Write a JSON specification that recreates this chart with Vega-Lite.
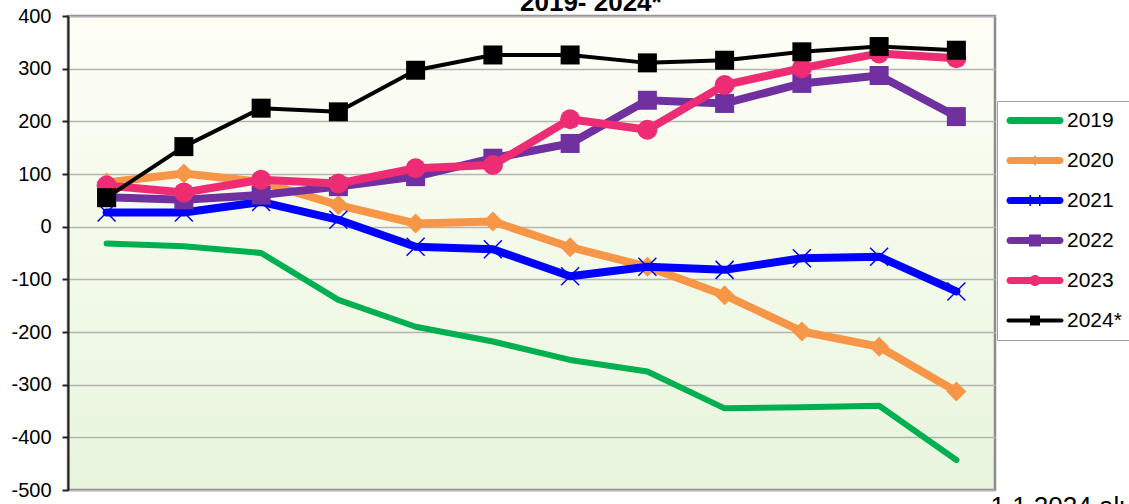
{
  "$schema": "https://vega.github.io/schema/vega-lite/v6.json",
  "width": 927,
  "height": 474,
  "autosize": {"type": "none"},
  "padding": {"left": 68, "top": 16, "right": 134, "bottom": 14},
  "background": "white",
  "title": {"text": "2019- 2024*", "anchor": "start", "frame": "group", "dx": 452, "dy": 25, "offset": -6, "baseline": "alphabetic", "fontSize": 26, "fontWeight": "bold", "font": "Liberation Sans", "color": "black"},
  "data": {"values": [
    {"m": 1, "year": "2019", "v": -32}, {"m": 2, "year": "2019", "v": -37}, {"m": 3, "year": "2019", "v": -50}, {"m": 4, "year": "2019", "v": -139}, {"m": 5, "year": "2019", "v": -190}, {"m": 6, "year": "2019", "v": -218}, {"m": 7, "year": "2019", "v": -253}, {"m": 8, "year": "2019", "v": -275}, {"m": 9, "year": "2019", "v": -345}, {"m": 10, "year": "2019", "v": -343}, {"m": 11, "year": "2019", "v": -340}, {"m": 12, "year": "2019", "v": -443},
    {"m": 1, "year": "2020", "v": 84}, {"m": 2, "year": "2020", "v": 101}, {"m": 3, "year": "2020", "v": 85}, {"m": 4, "year": "2020", "v": 41}, {"m": 5, "year": "2020", "v": 6}, {"m": 6, "year": "2020", "v": 10}, {"m": 7, "year": "2020", "v": -39}, {"m": 8, "year": "2020", "v": -76}, {"m": 9, "year": "2020", "v": -130}, {"m": 10, "year": "2020", "v": -199}, {"m": 11, "year": "2020", "v": -228}, {"m": 12, "year": "2020", "v": -313},
    {"m": 1, "year": "2021", "v": 27}, {"m": 2, "year": "2021", "v": 27}, {"m": 3, "year": "2021", "v": 47}, {"m": 4, "year": "2021", "v": 13}, {"m": 5, "year": "2021", "v": -38}, {"m": 6, "year": "2021", "v": -43}, {"m": 7, "year": "2021", "v": -94}, {"m": 8, "year": "2021", "v": -76}, {"m": 9, "year": "2021", "v": -82}, {"m": 10, "year": "2021", "v": -60}, {"m": 11, "year": "2021", "v": -57}, {"m": 12, "year": "2021", "v": -123},
    {"m": 1, "year": "2022", "v": 56}, {"m": 2, "year": "2022", "v": 51}, {"m": 3, "year": "2022", "v": 60}, {"m": 4, "year": "2022", "v": 76}, {"m": 5, "year": "2022", "v": 95}, {"m": 6, "year": "2022", "v": 130}, {"m": 7, "year": "2022", "v": 158}, {"m": 8, "year": "2022", "v": 240}, {"m": 9, "year": "2022", "v": 234}, {"m": 10, "year": "2022", "v": 272}, {"m": 11, "year": "2022", "v": 287}, {"m": 12, "year": "2022", "v": 209},
    {"m": 1, "year": "2023", "v": 78}, {"m": 2, "year": "2023", "v": 65}, {"m": 3, "year": "2023", "v": 89}, {"m": 4, "year": "2023", "v": 82}, {"m": 5, "year": "2023", "v": 111}, {"m": 6, "year": "2023", "v": 117}, {"m": 7, "year": "2023", "v": 204}, {"m": 8, "year": "2023", "v": 184}, {"m": 9, "year": "2023", "v": 269}, {"m": 10, "year": "2023", "v": 301}, {"m": 11, "year": "2023", "v": 329}, {"m": 12, "year": "2023", "v": 320},
    {"m": 1, "year": "2024*", "v": 55}, {"m": 2, "year": "2024*", "v": 152}, {"m": 3, "year": "2024*", "v": 225}, {"m": 4, "year": "2024*", "v": 218}, {"m": 5, "year": "2024*", "v": 297}, {"m": 6, "year": "2024*", "v": 326}, {"m": 7, "year": "2024*", "v": 326}, {"m": 8, "year": "2024*", "v": 311}, {"m": 9, "year": "2024*", "v": 316}, {"m": 10, "year": "2024*", "v": 332}, {"m": 11, "year": "2024*", "v": 342}, {"m": 12, "year": "2024*", "v": 335}
  ]},
  "encoding": {
    "x": {"field": "m", "type": "ordinal", "scale": {"type": "point", "padding": 0.5},
      "axis": {"labels": false, "ticks": false, "domain": false, "grid": false, "title": "1.1.2024 aluejaolla", "titleX": 922, "titleY": 24, "titleAlign": "left", "titleAnchor": "start", "titleBaseline": "alphabetic", "titleFontSize": 26, "titleFontWeight": "normal", "titleFont": "Liberation Sans", "titleColor": "black"}},
    "y": {"field": "v", "type": "quantitative", "scale": {"domain": [-500, 400], "nice": false, "zero": false},
      "axis": {"values": [-500, -400, -300, -200, -100, 0, 100, 200, 300, 400], "labelExpr": "toString(datum.value)", "title": null, "grid": true, "gridColor": "#b4b4b4", "gridWidth": 1.5, "domainColor": "#222222", "domainWidth": 2, "tickColor": "#222222", "tickWidth": 2, "tickSize": 6, "labelFontSize": 20, "labelFont": "Liberation Sans", "labelColor": "black", "labelPadding": 11}}
  },
  "layer": [
    {"transform": [{"filter": "datum.year === '2019'"}], "mark": {"type": "line", "strokeWidth": 6, "strokeCap": "round", "strokeJoin": "round"},
      "encoding": {"color": {"field": "year", "type": "nominal",
        "scale": {"domain": ["2019", "2020", "2021", "2022", "2023", "2024*"], "range": ["#00b050", "#f79646", "#0000ff", "#7030a0", "#ee2c74", "#000000"]},
        "legend": {"orient": "none", "legendX": 929, "legendY": 85, "padding": 9, "strokeColor": "#a0a0a0", "fillColor": "white", "title": null, "rowPadding": 18, "labelFontSize": 21, "labelFont": "Liberation Sans", "labelColor": "black", "symbolSize": 400, "labelOffset": 40,
          "labelExpr": "datum.label + '\u00a0\u00a0\u00a0\u00a0\u00a0'",
          "encode": {"symbols": {"update": {
            "shape": {"signal": "datum.value === '2019' ? 'M-0.65,-0.35H4.35A0.35,0.35 0 0,1 4.35,0.35H-0.65A0.35,0.35 0 0,1 -0.65,-0.35Z' : datum.value === '2020' ? 'M-0.65,-0.35H4.35A0.35,0.35 0 0,1 4.35,0.35H-0.65A0.35,0.35 0 0,1 -0.65,-0.35Z M1.85,-0.55L2.2,0L1.85,0.55L1.5,0Z' : datum.value === '2021' ? 'M-0.65,-0.35H4.35A0.35,0.35 0 0,1 4.35,0.35H-0.65A0.35,0.35 0 0,1 -0.65,-0.35Z M1.3,-0.55H1.45V0.55H1.3Z M2.25,-0.55H2.4V0.55H2.25Z' : datum.value === '2022' ? 'M-0.65,-0.35H4.35A0.35,0.35 0 0,1 4.35,0.35H-0.65A0.35,0.35 0 0,1 -0.65,-0.35Z M1.25,-0.6H2.45V0.6H1.25Z' : datum.value === '2023' ? 'M-0.65,-0.35H4.35A0.35,0.35 0 0,1 4.35,0.35H-0.65A0.35,0.35 0 0,1 -0.65,-0.35Z M1.3,0A0.55,0.55 0 1,1 2.4,0A0.55,0.55 0 1,1 1.3,0Z' : 'M-0.8,-0.2H4.5A0.2,0.2 0 0,1 4.5,0.2H-0.8A0.2,0.2 0 0,1 -0.8,-0.2Z M1.35,-0.5H2.35V0.5H1.35Z'"},
            "fill": {"signal": "scale('color', datum.value)"},
            "stroke": {"value": "transparent"},
            "strokeWidth": {"value": 0},
            "opacity": {"value": 1}}}}}}}},
    {"transform": [{"filter": "datum.year === '2020'"}], "mark": {"type": "line", "strokeWidth": 8, "strokeCap": "round", "strokeJoin": "round"}, "encoding": {"color": {"field": "year", "type": "nominal"}}},
    {"transform": [{"filter": "datum.year === '2020'"}], "mark": {"type": "point", "shape": "diamond", "size": 400, "filled": true, "opacity": 1, "color": "#f79646"}},
    {"transform": [{"filter": "datum.year === '2021'"}], "mark": {"type": "line", "strokeWidth": 8, "strokeCap": "round", "strokeJoin": "round"}, "encoding": {"color": {"field": "year", "type": "nominal"}}},
    {"transform": [{"filter": "datum.year === '2021'"}], "mark": {"type": "point", "shape": "M-1,-1L1,1M-1,1L1,-1", "size": 324, "filled": false, "opacity": 1, "stroke": "#0000ff", "strokeWidth": 1.5}},
    {"transform": [{"filter": "datum.year === '2022'"}], "mark": {"type": "line", "strokeWidth": 8, "strokeCap": "round", "strokeJoin": "round"}, "encoding": {"color": {"field": "year", "type": "nominal"}}},
    {"transform": [{"filter": "datum.year === '2022'"}], "mark": {"type": "point", "shape": "square", "size": 361, "filled": true, "opacity": 1, "color": "#7030a0"}},
    {"transform": [{"filter": "datum.year === '2023'"}], "mark": {"type": "line", "strokeWidth": 8, "strokeCap": "round", "strokeJoin": "round"}, "encoding": {"color": {"field": "year", "type": "nominal"}}},
    {"transform": [{"filter": "datum.year === '2023'"}], "mark": {"type": "point", "shape": "circle", "size": 400, "filled": true, "opacity": 1, "color": "#ee2c74"}},
    {"transform": [{"filter": "datum.year === '2024*'"}], "mark": {"type": "line", "strokeWidth": 4, "strokeCap": "round", "strokeJoin": "round"}, "encoding": {"color": {"field": "year", "type": "nominal"}}},
    {"transform": [{"filter": "datum.year === '2024*'"}], "mark": {"type": "point", "shape": "square", "size": 361, "filled": true, "opacity": 1, "color": "#000000"}}
  ],
  "config": {
    "view": {"stroke": "#8c8c8c", "strokeWidth": 2.5,
      "fill": {"gradient": "linear", "x1": 0, "y1": 0, "x2": 0, "y2": 1, "stops": [{"offset": 0, "color": "#fefef6"}, {"offset": 1, "color": "#e8f5dd"}]}}
  }
}
